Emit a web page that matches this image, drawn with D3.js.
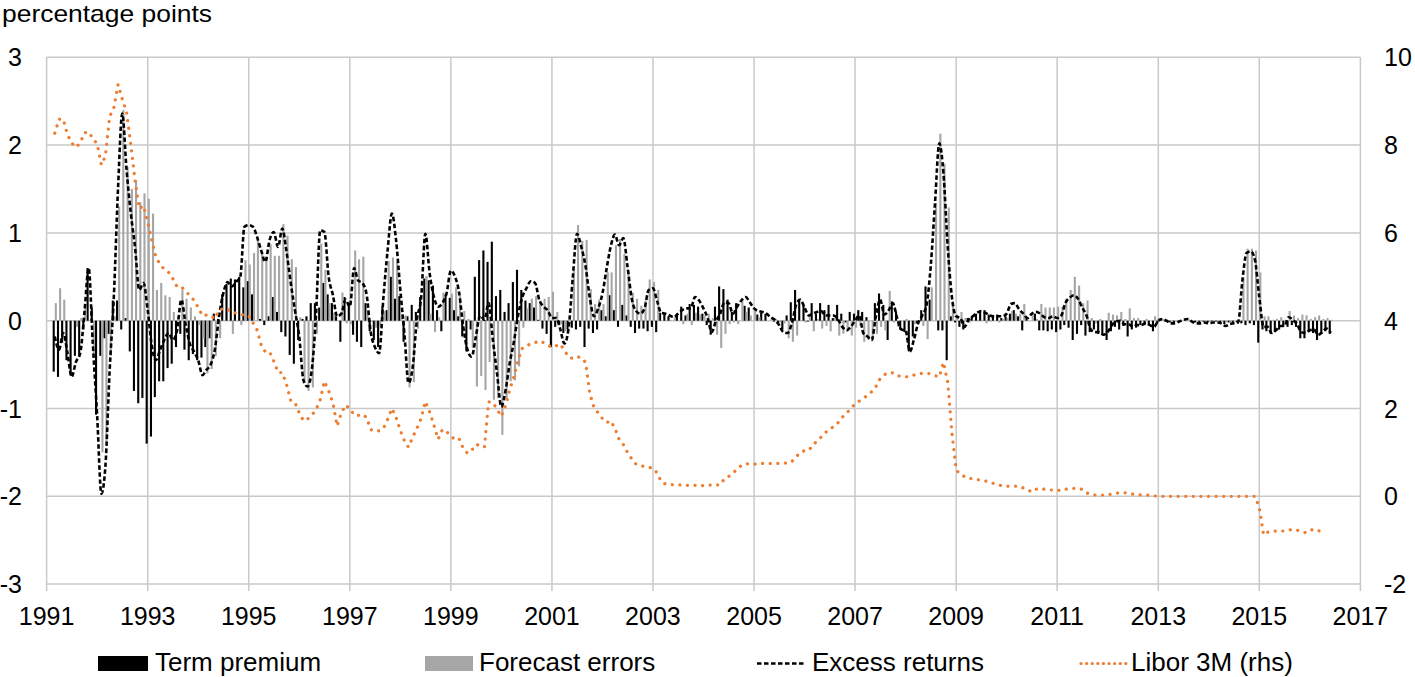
<!DOCTYPE html>
<html>
<head>
<meta charset="utf-8">
<script src="https://cdn.jsdelivr.net/npm/d3@7"></script>
<style>
  body { margin: 0; background: #fff; }
  text { font-family: "Liberation Sans", Arial, sans-serif; fill: #000; }
</style>
</head>
<body>
<div id="chart"></div>
<script>
// monthly data, first value = March 1991
const startMonth = new Date(1991, 2, 1);

// term premium (black bars), one row per year
const termPremium = [
  -0.58, -0.64, -0.25, -0.45, -0.60, -0.40, -0.40, -0.10, 0.60, 0.15,
  -1.07, -0.40, -0.20, -0.15, 0.23, 0.23, -0.10, 0.03, -0.35, -0.80, -0.94, -0.88,
  -1.40, -1.32, -0.87, -0.69, -0.69, -0.54, -0.49, -0.30, -0.15, -0.33, -0.45, -0.38,
  -0.45, -0.42, -0.30, -0.20, 0.08, 0.02, 0.30, 0.42, 0.48, 0.47, 0.50, 0.38,
  0.45, 0.30, 0.00, 0.02, -0.05, 0.05, 0.27, 0.10, -0.13, -0.18, -0.39, -0.49,
  -0.22, 0.02, 0.05, 0.20, 0.20, 0.15, 0.43, 0.30, 0.20, 0.05, -0.24, 0.27,
  0.20, -0.16, -0.24, -0.30, 0.20, -0.12, -0.22, -0.30, 0.16, 0.12, 0.50, 0.25,
  0.28, -0.24, 0.05, 0.18, 0.10, 0.27, 0.48, 0.46, 0.40, 0.12, -0.12, 0.30,
  0.26, 0.12, 0.05, -0.18, -0.35, -0.10, 0.50, 0.69, 0.80, 0.67, 0.90, 0.28,
  0.35, 0.10, 0.20, 0.44, 0.58, 0.35, 0.23, 0.20, 0.15, 0.01, -0.09, -0.15,
  -0.30, -0.07, -0.05, -0.14, -0.10, -0.08, -0.10, -0.07, -0.30, -0.09, -0.14, -0.10,
  0.12, 0.05, 0.29, 0.12, -0.07, 0.18, 0.06, -0.07, -0.14, -0.09, -0.09, -0.12,
  -0.07, -0.13, 0.09, 0.08, 0.05, 0.00, 0.08, 0.16, 0.06, 0.19, 0.18, 0.16,
  0.08, -0.05, -0.16, 0.16, 0.39, 0.36, 0.24, 0.10, 0.20, 0.00, 0.17, 0.15,
  0.00, 0.07, 0.09, 0.08, 0.00, -0.01, -0.03, -0.10, 0.06, 0.21, 0.35, 0.24,
  0.17, -0.01, 0.20, 0.08, 0.20, 0.12, 0.18, 0.03, 0.18, 0.08, -0.02, 0.10,
  0.08, 0.12, 0.10, 0.04, 0.00, 0.20, 0.31, 0.18, -0.22, 0.22, 0.10, -0.10,
  -0.13, -0.35, -0.18, -0.03, 0.12, 0.39, 0.24, 0.00, -0.11, -0.11, -0.45, 0.05,
  -0.02, -0.07, -0.10, 0.03, 0.05, 0.08, 0.10, 0.12, 0.07, 0.05, 0.07, 0.03,
  0.05, 0.08, 0.12, 0.05, -0.11, 0.03, 0.00, 0.08, -0.11, -0.11, -0.12, -0.10,
  -0.13, -0.10, -0.05, -0.08, -0.22, -0.15, -0.05, -0.17, -0.13, -0.10, -0.15, -0.16,
  -0.22, -0.12, -0.07, -0.10, -0.06, -0.18, -0.10, -0.08, -0.05, -0.05, -0.05, -0.12,
  -0.03, 0.00, -0.01, -0.02, -0.02, -0.01, 0.00, 0.00, -0.01, -0.02, -0.02, -0.01,
  -0.02, -0.01, -0.01, -0.02, -0.04, -0.02, -0.02, -0.02, -0.03, -0.05, -0.03, -0.05,
  -0.25, -0.10, -0.12, -0.15, -0.13, -0.10, -0.07, -0.07, -0.05, -0.07, -0.20, -0.20,
  -0.13, -0.14, -0.22, -0.15, -0.12, -0.15
];

// forecast errors (grey bars)
const forecastErrors = [
  0.20, 0.37, 0.24, 0.00, 0.00, -0.07, 0.03, 0.18, 0.00, -0.41,
  0.00, -1.50, -1.40, -0.40, 0.05, 1.30, 2.40, 1.75, 1.50, 1.60, 1.35, 1.45,
  1.39, 1.22, 0.35, 0.43, 0.29, 0.27, 0.10, 0.05, 0.35, 0.25, 0.15, 0.05,
  -0.05, -0.20, -0.60, -0.55, -0.40, -0.20, 0.00, 0.00, -0.15, 0.00, -0.05, 0.69,
  0.64, 0.77, 0.94, 0.78, 0.72, 0.87, 0.74, 0.74, 1.10, 0.97, 0.70, 0.61,
  0.04, -0.70, -0.80, -0.76, -0.15, 0.88, 0.58, 0.20, 0.09, 0.00, 0.32, -0.03,
  -0.04, 0.80, 0.70, 0.73, 0.11, -0.01, -0.08, -0.07, 0.11, 0.68, 0.72, 0.67,
  0.07, 0.06, -0.76, -0.70, -0.09, 0.00, 0.51, 0.08, -0.13, 0.04, 0.32, 0.01,
  0.31, 0.38, 0.28, 0.11, 0.02, -0.31, -0.75, -0.63, -0.79, -0.47, -0.90, -0.88,
  -1.30, -0.90, -0.69, -0.68, -0.52, -0.08, 0.14, 0.25, 0.28, 0.23, 0.25, 0.27,
  0.33, 0.10, -0.04, -0.12, 0.01, 0.58, 1.09, 0.91, 0.92, 0.36, 0.19, 0.24,
  0.19, 0.55, 0.55, 0.86, 0.93, 0.76, 0.56, 0.32, 0.25, 0.17, 0.23, 0.47,
  0.44, 0.35, 0.00, 0.00, 0.01, 0.04, 0.00, -0.04, 0.08, -0.05, 0.09, 0.07,
  0.06, 0.08, 0.03, -0.16, -0.31, -0.15, -0.04, -0.02, -0.04, 0.23, 0.10, 0.06,
  0.14, 0.04, 0.01, 0.00, 0.04, 0.02, -0.02, -0.03, -0.20, -0.24, -0.17, 0.00,
  -0.02, 0.07, -0.12, 0.02, -0.09, -0.06, -0.12, 0.03, -0.17, -0.15, -0.09, -0.17,
  -0.08, -0.06, -0.24, -0.22, -0.22, -0.15, -0.07, -0.11, 0.34, -0.02, -0.07, 0.00,
  0.02, 0.00, -0.04, 0.00, -0.06, -0.21, 0.38, 1.34, 2.13, 1.79, 1.29, 0.22,
  0.07, 0.10, 0.03, -0.02, 0.00, 0.01, 0.01, -0.03, -0.01, 0.00, -0.02, 0.02,
  0.03, 0.11, 0.08, 0.08, 0.19, 0.00, 0.08, 0.02, 0.19, 0.15, 0.15, 0.15,
  0.16, 0.16, 0.25, 0.35, 0.50, 0.40, 0.20, 0.23, 0.03, -0.03, 0.02, 0.00,
  0.09, 0.07, 0.06, 0.10, 0.02, 0.14, 0.03, 0.03, 0.00, 0.02, 0.00, 0.05,
  0.03, 0.02, 0.01, -0.01, -0.01, 0.00, 0.01, 0.02, 0.00, -0.01, -0.01, -0.01,
  -0.01, 0.00, -0.01, -0.01, -0.02, -0.02, -0.01, 0.00, 0.49, 0.82, 0.82, 0.80,
  0.55, 0.05, 0.05, 0.01, 0.02, 0.04, 0.01, 0.11, 0.06, 0.03, 0.07, 0.06,
  0.02, 0.04, 0.06, 0.02, 0.03, 0.01
];

// excess returns (dashed line)
const excessReturns = [
  -0.18, -0.33, -0.14, -0.37, -0.64, -0.47, -0.37, 0.08, 0.60, -0.26,
  -1.07, -1.97, -1.66, -0.56, 0.27, 1.53, 2.36, 1.72, 1.22, 0.84, 0.35, 0.43,
  0.12, -0.30, -0.45, -0.33, -0.22, -0.14, -0.22, -0.11, 0.24, -0.03, -0.26, -0.35,
  -0.45, -0.62, -0.56, -0.50, -0.33, 0.05, 0.31, 0.44, 0.39, 0.44, 0.50, 1.07,
  1.09, 1.07, 0.96, 0.80, 0.67, 0.92, 1.01, 0.84, 1.05, 0.79, 0.43, 0.12,
  -0.18, -0.68, -0.75, -0.56, 0.05, 1.03, 1.01, 0.50, 0.29, 0.05, 0.08, 0.24,
  0.16, 0.60, 0.46, 0.43, 0.31, -0.13, -0.30, -0.37, 0.27, 0.80, 1.22, 0.92,
  0.35, -0.18, -0.71, -0.52, 0.01, 0.27, 0.99, 0.54, 0.27, 0.16, 0.20, 0.31,
  0.57, 0.50, 0.33, -0.07, -0.33, -0.41, -0.18, 0.06, 0.01, 0.20, -0.22, -0.60,
  -0.98, -0.79, -0.49, -0.24, 0.06, 0.27, 0.37, 0.45, 0.43, 0.24, 0.16, 0.12,
  0.03, 0.03, -0.09, -0.26, -0.09, 0.50, 0.99, 0.84, 0.62, 0.27, 0.05, 0.14,
  0.31, 0.60, 0.84, 0.98, 0.86, 0.94, 0.62, 0.25, 0.11, 0.08, 0.14, 0.35,
  0.37, 0.22, 0.09, 0.08, 0.06, 0.04, 0.08, 0.12, 0.14, 0.14, 0.27, 0.23,
  0.14, 0.03, -0.13, 0.00, 0.08, 0.21, 0.20, 0.08, 0.16, 0.23, 0.27, 0.21,
  0.14, 0.11, 0.10, 0.08, 0.04, 0.01, -0.05, -0.13, -0.14, -0.03, 0.18, 0.24,
  0.15, 0.06, 0.08, 0.10, 0.11, 0.06, 0.06, 0.06, 0.01, -0.07, -0.11, -0.07,
  0.00, 0.06, -0.14, -0.18, -0.22, 0.05, 0.24, 0.07, 0.12, 0.20, 0.03, -0.10,
  -0.11, -0.35, -0.22, -0.03, 0.06, 0.18, 0.62, 1.34, 2.02, 1.68, 0.84, 0.27,
  0.05, 0.03, -0.07, 0.01, 0.05, 0.09, 0.11, 0.09, 0.06, 0.05, 0.05, 0.05,
  0.08, 0.19, 0.20, 0.13, 0.08, 0.03, 0.08, 0.10, 0.08, 0.04, 0.03, 0.05,
  0.03, 0.06, 0.20, 0.26, 0.29, 0.25, 0.15, 0.06, -0.10, -0.13, -0.13, -0.16,
  -0.13, -0.05, -0.01, 0.00, -0.04, -0.04, -0.07, -0.05, -0.05, -0.03, -0.05, -0.07,
  0.00, 0.02, 0.00, -0.03, -0.03, -0.01, 0.01, 0.02, -0.01, -0.03, -0.03, -0.02,
  -0.03, -0.02, -0.02, -0.03, -0.06, -0.04, -0.03, -0.02, 0.46, 0.77, 0.79, 0.69,
  0.27, -0.07, -0.07, -0.14, -0.11, -0.06, -0.06, 0.04, 0.01, -0.04, -0.13, -0.14,
  -0.11, -0.10, -0.16, -0.13, -0.09, -0.14
];

// 3-month Libor, right axis
const libor3m = [
  8.27, 8.59, 8.59, 8.24, 8.05, 7.95, 8.05, 8.28, 8.30, 8.15,
  8.03, 7.55, 7.75, 8.65, 8.85, 9.38, 9.05, 8.75, 8.00, 7.20, 6.55, 6.62,
  6.25, 5.80, 5.45, 5.28, 5.17, 5.10, 4.96, 4.77, 4.77, 4.68, 4.57, 4.47,
  4.30, 4.11, 4.13, 4.12, 4.04, 4.25, 4.27, 4.27, 4.18, 4.18, 4.15, 4.12,
  4.12, 3.95, 3.80, 3.45, 3.29, 3.29, 3.08, 2.82, 2.82, 2.55, 2.18, 2.14,
  1.90, 1.72, 1.76, 1.85, 1.97, 2.20, 2.62, 2.40, 2.12, 1.60, 1.90, 2.08,
  2.00, 1.85, 1.84, 1.87, 1.80, 1.52, 1.48, 1.49, 1.55, 1.75, 2.00, 1.80,
  1.50, 1.25, 1.12, 1.35, 1.55, 1.78, 2.16, 1.92, 1.62, 1.30, 1.52, 1.48,
  1.36, 1.30, 1.32, 1.09, 0.98, 1.05, 1.18, 1.16, 1.12, 2.15, 2.14, 1.98,
  1.82, 2.07, 2.42, 2.72, 3.10, 3.37, 3.43, 3.47, 3.50, 3.54, 3.50, 3.45,
  3.39, 3.43, 3.47, 3.33, 3.17, 3.14, 3.18, 3.16, 3.05, 2.35, 2.02, 1.90,
  1.77, 1.68, 1.72, 1.55, 1.30, 1.18, 1.00, 0.85, 0.73, 0.70, 0.68, 0.66,
  0.64, 0.53, 0.34, 0.28, 0.27, 0.26, 0.26, 0.26, 0.25, 0.24, 0.25, 0.26,
  0.24, 0.25, 0.26, 0.26, 0.26, 0.40, 0.45, 0.53, 0.62, 0.70, 0.74, 0.74,
  0.73, 0.74, 0.75, 0.75, 0.75, 0.75, 0.75, 0.75, 0.76, 0.79, 0.90, 1.00,
  1.04, 1.05, 1.16, 1.26, 1.35, 1.45, 1.53, 1.59, 1.68, 1.80, 1.90, 1.99,
  2.11, 2.17, 2.23, 2.30, 2.38, 2.50, 2.68, 2.77, 2.82, 2.81, 2.75, 2.73,
  2.72, 2.73, 2.76, 2.80, 2.80, 2.80, 2.79, 2.75, 2.72, 3.05, 2.60, 1.45,
  0.60, 0.50, 0.45, 0.41, 0.40, 0.38, 0.37, 0.35, 0.32, 0.29, 0.26, 0.24,
  0.23, 0.23, 0.23, 0.23, 0.19, 0.15, 0.10, 0.16, 0.18, 0.16, 0.15, 0.14,
  0.14, 0.13, 0.16, 0.18, 0.18, 0.18, 0.16, 0.08, 0.04, 0.03, 0.03, 0.03,
  0.04, 0.05, 0.07, 0.08, 0.08, 0.07, 0.05, 0.04, 0.03, 0.03, 0.02, 0.01,
  0.00, 0.00, 0.00, 0.00, 0.00, 0.00, 0.00, 0.00, 0.00, 0.00, 0.00, 0.00,
  0.00, 0.00, 0.00, 0.00, 0.00, 0.00, 0.00, 0.00, 0.00, 0.00, 0.00, 0.00,
  -0.25, -0.88, -0.82, -0.80, -0.79, -0.79, -0.79, -0.77, -0.75, -0.77, -0.80, -0.83,
  -0.78, -0.75, -0.79, -0.78, -0.77
];

const yearTicks = [1991, 1993, 1995, 1997, 1999, 2001, 2003, 2005, 2007, 2009, 2011, 2013, 2015, 2017];
const leftTicks = [-3, -2, -1, 0, 1, 2, 3];
const rightTicks = [-2, 0, 2, 4, 6, 8, 10];
const legendNames = ["Term premium", "Forecast errors", "Excess returns", "Libor 3M (rhs)"];

const W = 1415, H = 677;
const plotLeft = 46.6, plotRight = 1360.4, plotTop = 57.3, plotBottom = 584.1;
const orange = "#ED7D31", grey = "#a6a6a6", gridColor = "#c9c9c9";

const month = i => d3.timeMonth.offset(startMonth, i);

const x = d3.scaleTime()
  .domain([new Date(1991, 0, 1), new Date(2017, 0, 1)])
  .range([plotLeft, plotRight]);
const yL = d3.scaleLinear().domain([-3, 3]).range([plotBottom, plotTop]);
const yR = d3.scaleLinear().domain([-2, 10]).range([plotBottom, plotTop]);

const svg = d3.select("#chart").append("svg")
  .attr("width", W)
  .attr("height", H);

svg.append("rect").attr("width", W).attr("height", H).attr("fill", "white");

// gridlines
svg.append("g").selectAll("line").data(leftTicks).join("line")
  .attr("x1", plotLeft).attr("x2", plotRight)
  .attr("y1", d => yL(d)).attr("y2", d => yL(d))
  .attr("stroke", gridColor).attr("stroke-width", 1.5);

svg.append("g").selectAll("line").data(yearTicks).join("line")
  .attr("x1", d => x(new Date(d, 0, 1))).attr("x2", d => x(new Date(d, 0, 1)))
  .attr("y1", plotTop).attr("y2", plotBottom + 7)
  .attr("stroke", gridColor).attr("stroke-width", 1.5);

// bars: term premium left of the month, forecast errors right of it
const bw = 2.1;
svg.append("g").selectAll("rect").data(termPremium).join("rect")
  .attr("x", (d, i) => x(month(i)) - bw)
  .attr("width", bw)
  .attr("y", d => yL(Math.max(0, d)))
  .attr("height", d => Math.abs(yL(d) - yL(0)))
  .attr("fill", "#000");

svg.append("g").selectAll("rect").data(forecastErrors).join("rect")
  .attr("x", (d, i) => x(month(i)))
  .attr("width", bw)
  .attr("y", d => yL(Math.max(0, d)))
  .attr("height", d => Math.abs(yL(d) - yL(0)))
  .attr("fill", grey);

// excess returns
svg.append("path")
  .datum(excessReturns)
  .attr("fill", "none")
  .attr("stroke", "#000")
  .attr("stroke-width", 2.6)
  .attr("stroke-dasharray", "4.5,2.5")
  .attr("d", d3.line().x((d, i) => x(month(i))).y(d => yL(d)).curve(d3.curveMonotoneX));

// libor
svg.append("path")
  .datum(libor3m)
  .attr("fill", "none")
  .attr("stroke", orange)
  .attr("stroke-width", 3.2)
  .attr("stroke-linecap", "round")
  .attr("stroke-dasharray", "0.1,7.5")
  .attr("d", d3.line().x((d, i) => x(month(i))).y(d => yR(d)));

// axis labels
svg.append("g").selectAll("text").data(leftTicks).join("text")
  .attr("x", 22).attr("y", d => yL(d)).attr("dy", "0.36em")
  .attr("text-anchor", "end").attr("font-size", 25)
  .text(d => d);

svg.append("g").selectAll("text").data(rightTicks).join("text")
  .attr("x", 1384).attr("y", d => yR(d)).attr("dy", "0.36em")
  .attr("text-anchor", "start").attr("font-size", 25)
  .text(d => d);

svg.append("g").selectAll("text").data(yearTicks).join("text")
  .attr("x", d => x(new Date(d, 0, 1))).attr("y", 625)
  .attr("text-anchor", "middle").attr("font-size", 25)
  .text(d => d);

svg.append("text").attr("x", 2).attr("y", 22).attr("font-size", 24)
  .attr("textLength", 210).attr("lengthAdjust", "spacingAndGlyphs")
  .text("percentage points");

// legend
const legendX = [98, 425, 757, 1080];
const lg = svg.append("g");
lg.append("rect").attr("x", legendX[0]).attr("y", 656).attr("width", 50).attr("height", 15).attr("fill", "#000");
lg.append("rect").attr("x", legendX[1]).attr("y", 656).attr("width", 48).attr("height", 15).attr("fill", grey);
lg.append("line").attr("x1", legendX[2]).attr("x2", legendX[2] + 49).attr("y1", 663.5).attr("y2", 663.5)
  .attr("stroke", "#000").attr("stroke-width", 2.5).attr("stroke-dasharray", "4.5,2.5");
lg.append("line").attr("x1", legendX[3] + 1).attr("x2", legendX[3] + 47).attr("y1", 663.5).attr("y2", 663.5)
  .attr("stroke", orange).attr("stroke-width", 3.2).attr("stroke-linecap", "round").attr("stroke-dasharray", "0.1,5.5");
lg.selectAll("text").data(legendNames).join("text")
  .attr("x", (d, i) => legendX[i] + [57, 54, 55, 51][i])
  .attr("y", 671)
  .attr("font-size", 26)
  .text(d => d);
</script>
</body>
</html>
